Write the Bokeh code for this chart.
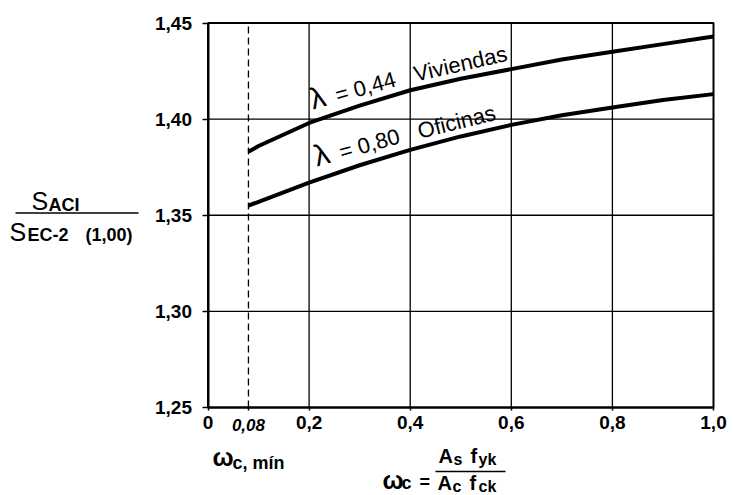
import math
from bokeh.plotting import figure
from bokeh.models import FixedTicker, Label, Range1d, CustomJSTickFormatter, LinearAxis
from bokeh.embed import file_html
from bokeh.resources import INLINE

# ---- data ----
omega = [0.08, 0.1, 0.2, 0.3, 0.4, 0.5, 0.6, 0.7, 0.8, 0.9, 1.0]
ratio_viviendas = [1.383, 1.386, 1.398, 1.407, 1.415, 1.421, 1.426, 1.431, 1.435, 1.439, 1.443]
ratio_oficinas = [1.355, 1.357, 1.367, 1.376, 1.384, 1.391, 1.397, 1.402, 1.406, 1.410, 1.413]
omega_min = 0.08
x_ticks = [0.0, 0.08, 0.2, 0.4, 0.6, 0.8, 1.0]
x_tick_labels = ["0", "", "0,2", "0,4", "0,6", "0,8", "1,0"]
omega_min_label = "0,08"
y_ticks = [1.25, 1.30, 1.35, 1.40, 1.45]
y_tick_labels = ["1,25", "1,30", "1,35", "1,40", "1,45"]
x_grid = [0.2, 0.4, 0.6, 0.8]
y_grid = [1.30, 1.35, 1.40]

W, H = 733, 495
L, R, T, B = 207.5, 713, 22.5, 407      # chart area inside the canvas (px)
X0, X1, Y0, Y1 = 0.0, 1.0, 1.25, 1.45   # chart area in data units

def dx(fx):
    return X0 + (fx - L) / (R - L) * (X1 - X0)

def dy(fy):
    return Y0 + (B - fy) / (B - T) * (Y1 - Y0)

FONT = "Liberation Sans"

p = figure(width=W, height=H, x_range=Range1d(dx(0), dx(W)), y_range=Range1d(dy(H), dy(0)),
           output_backend="svg", toolbar_location=None,
           x_axis_location=None, y_axis_location=None, min_border=0)
p.background_fill_color = "white"
p.border_fill_color = "white"
p.outline_line_color = None
p.xgrid.visible = False
p.ygrid.visible = False

# grid lines of the chart area
p.segment(x0=x_grid, x1=x_grid, y0=[Y0] * len(x_grid), y1=[Y1] * len(x_grid),
          line_color="black", line_width=1.3)
p.segment(x0=[X0] * len(y_grid), x1=[X1] * len(y_grid), y0=y_grid, y1=y_grid,
          line_color="black", line_width=1.3)

# dashed minimum line
p.segment(x0=[omega_min], x1=[omega_min], y0=[Y0], y1=[Y1],
          line_color="black", line_width=1.3, line_dash="7 4")

# curves
p.line(omega, ratio_viviendas, line_color="black", line_width=4)
p.line(omega, ratio_oficinas, line_color="black", line_width=4)

# chart frame
p.quad(left=[X0], right=[X1], bottom=[Y0], top=[Y1], fill_color=None,
       line_color="black", line_width=2)

# axes, drawn at the edges of the chart area
fmt_code = """
for (let i = 0; i < tv.length; i++) { if (Math.abs(tick - tv[i]) < 1e-9) return lv[i]; }
return "";
"""
xax = LinearAxis(fixed_location=Y0, bounds=(X0, X1), ticker=FixedTicker(ticks=x_ticks),
                 formatter=CustomJSTickFormatter(args=dict(tv=x_ticks, lv=x_tick_labels), code=fmt_code))
yax = LinearAxis(fixed_location=X0, bounds=(Y0, Y1), ticker=FixedTicker(ticks=y_ticks),
                 formatter=CustomJSTickFormatter(args=dict(tv=y_ticks, lv=y_tick_labels), code=fmt_code))
for ax in (xax, yax):
    ax.axis_line_color = "black"
    ax.axis_line_width = 2
    ax.major_tick_line_color = "black"
    ax.major_tick_line_width = 1.5
    ax.major_tick_in = 0
    ax.minor_tick_line_color = None
    ax.major_label_text_font = FONT
    ax.major_label_text_font_style = "bold"
    ax.major_label_text_font_size = "19px"
    ax.major_label_text_color = "black"
xax.major_tick_out = 3
xax.major_label_standoff = 5
yax.major_tick_out = 6
yax.major_label_standoff = 10
p.add_layout(xax, "below")
p.add_layout(yax, "left")

K = 0.28  # baseline correction (fraction of font size)

def lab(fx, fy, text, size, style="normal", angle=0.0, align="left"):
    a = math.radians(angle)
    off = K * size
    fx2 = fx - off * math.sin(a)
    fy2 = fy - off * math.cos(a)
    p.add_layout(Label(x=dx(fx2), y=dy(fy2), text=text, text_font=FONT, text_font_size=f"{size}px",
                       text_font_style=style, text_color="black", angle=a,
                       text_align=align, text_baseline="alphabetic"))

def bar(x0, x1, fy, th=1.5):
    p.segment(x0=[dx(x0)], x1=[dx(x1)], y0=[dy(fy)], y1=[dy(fy)], line_color="black", line_width=th)

# omega_min tick label (italic)
p.add_layout(Label(x=omega_min, y=dy(429 - K * 17), text=omega_min_label, text_font=FONT,
                   text_font_size="17px", text_font_style="bold italic", text_color="black",
                   text_align="center", text_baseline="alphabetic"))

# curve labels
lab(312, 107, "λ", 30, angle=16)
lab(337, 101, "= 0,44", 22, angle=16)
lab(415, 80, "Viviendas", 22, angle=13)
lab(316, 164, "λ", 30, angle=16)
lab(341, 158, "= 0,80", 22, angle=16)
lab(419, 137, "Oficinas", 22, angle=14)

# y-axis title (fraction)
lab(31, 207, "S", 25)
lab(48, 210, "ACI", 18, style="bold")
bar(15, 138, 212.5)
lab(9, 238, "S", 25)
lab(27, 240, "EC-2", 18, style="bold")
lab(85, 240, "(1,00)", 18, style="bold")

# x-axis titles
lab(212, 463, "ω", 25, style="bold")
lab(232, 468, "c, mín", 18, style="bold")

lab(382, 486, "ω", 25, style="bold")
lab(401, 488, "c", 18, style="bold")
lab(419, 487, "=", 18, style="bold")
bar(435, 505, 471)
lab(438, 461, "A", 20, style="bold")
lab(453, 463, "s", 16, style="bold")
lab(470, 461, "f", 20, style="bold")
lab(478, 463, "yk", 16, style="bold")
lab(437, 488, "A", 20, style="bold")
lab(452, 490, "c", 16, style="bold")
lab(469, 488, "f", 20, style="bold")
lab(478, 490, "ck", 16, style="bold")

open("out.html", "w").write(file_html(p, INLINE))
